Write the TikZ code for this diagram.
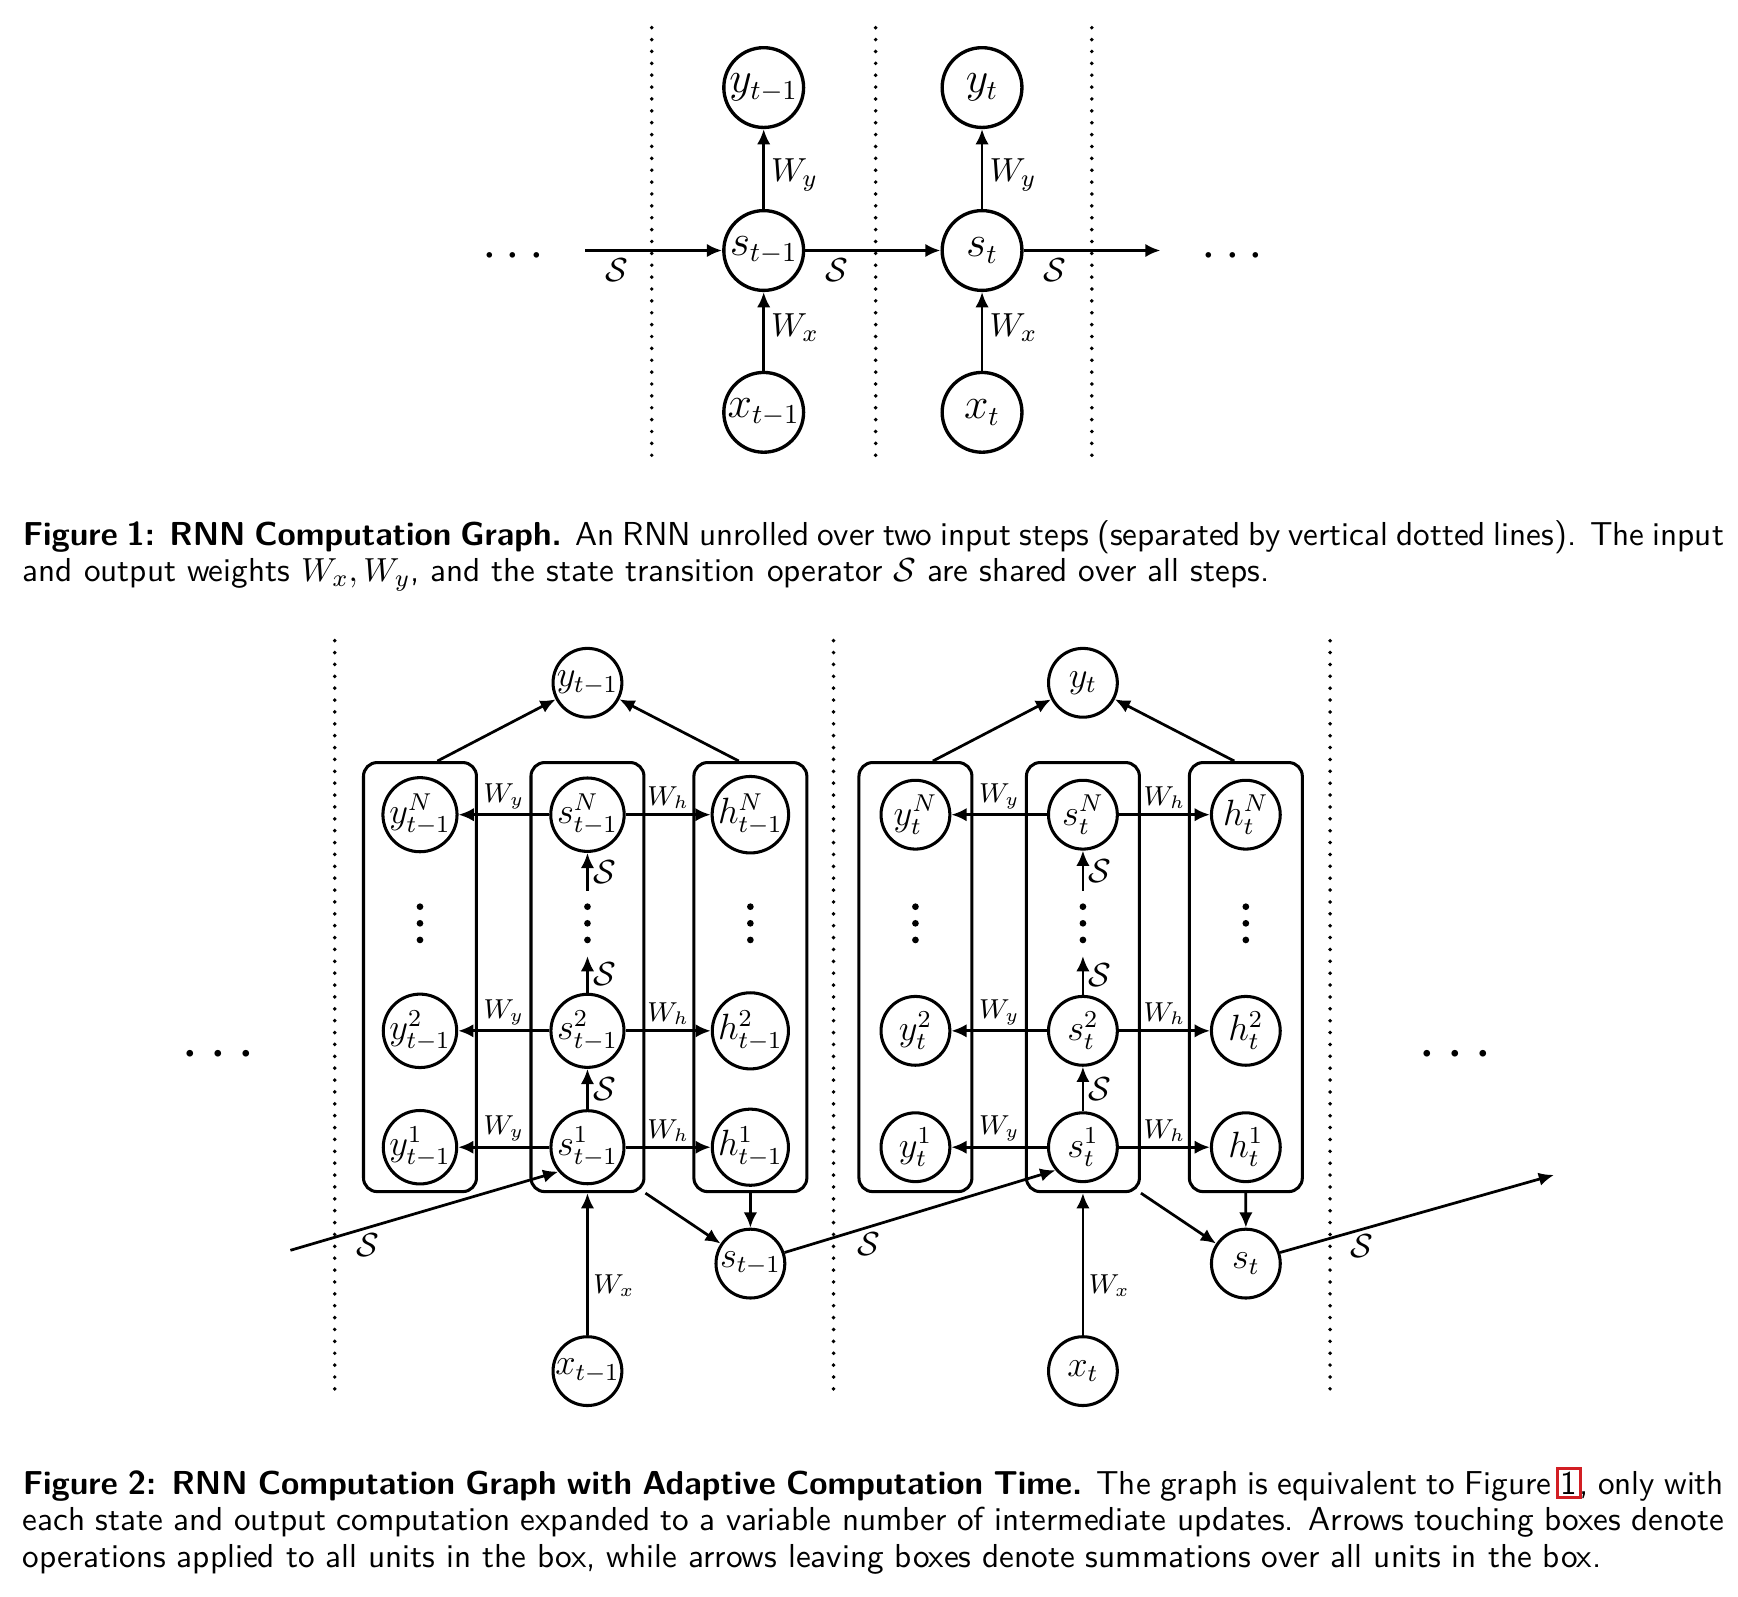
\documentclass[tikz,border=0pt]{standalone}
\usepackage{tikz}
\usetikzlibrary{positioning,calc,arrows.meta}
\definecolor{linkred}{RGB}{210,30,35}
\tikzset{
  actpic/.style={
    x=0.364pt,y=-0.364pt
    ,>={Latex[length=5pt,width=4.4pt]}
  }
  ,bigunit/.style={circle,draw,line width=1.1pt,minimum size=26.2pt,inner sep=0pt
    ,font=\fontsize{13.5}{15}\selectfont}
  ,unit/.style={circle,draw,line width=1pt,minimum size=22.6pt,inner sep=0pt
    ,font=\fontsize{11.5}{13}\selectfont}
  ,colbox/.style={draw,rounded corners=4.5pt,line width=1pt
    ,minimum width=37.1pt,minimum height=140.9pt,inner sep=0pt}
  ,stepline/.style={line width=1.3pt,line cap=round,dash pattern=on 0pt off 3.9pt}
  ,flow/.style={->,line width=0.9pt}
  ,bigflow/.style={->,line width=1.25pt}
  ,wlabel/.style={font=\fontsize{11}{13}\selectfont,inner sep=2pt}
  ,smallw/.style={font=\fontsize{9}{11}\selectfont,inner sep=1.5pt}
  ,smalls/.style={font=\fontsize{10.5}{12}\selectfont,inner sep=1.5pt}
  ,coldots/.style={inner sep=0pt,minimum width=4pt,minimum height=21.1pt}
  ,etc/.style={inner sep=0pt,font=\fontsize{17}{18}\selectfont}
  ,bigetc/.style={inner sep=0pt,font=\fontsize{20}{22}\selectfont}
  ,caption/.style={anchor=north west,inner sep=0pt,text width=558.7pt,align=justify
    ,font=\sffamily\fontsize{10.9}{12}\selectfont}
}
\newcommand\stackdots[1]{
\foreach \d in {-15,0,15} \fill ($(#1)+(0,\d)$) circle (1.1pt);
}
\newcommand\linkbox[1]{{\setlength\fboxsep{0.6pt}\setlength\fboxrule{0.9pt}%
\hspace{-1.5pt}\textcolor{linkred}{\fbox{\textcolor{black}{#1}}}\hspace{-0.9pt}}}

\begin{document}
\begin{tikzpicture}[actpic]
    \useasboundingbox (0,0) rectangle (1568,1440);
    % figure 1
    \foreach \x in {588,790,985}
      \draw[stepline] (\x,25) -- (\x,420);
    \node[bigunit] (sprev) at (689,226) {$s_{t-1}$};
    \node[bigunit] (scur) at (886,226) {$s_t$};
    \node[bigunit] (yprev) at (689,79) {$y_{t-1}$};
    \node[bigunit] (ycur) at (886,79) {$y_t$};
    \node[bigunit] (xprev) at (689,372) {$x_{t-1}$};
    \node[bigunit] (xcur) at (886,372) {$x_t$};
    \coordinate (sin) at (528,226);
    \coordinate (sout) at (1047,226);
    \node[etc] (ldots) at (463,232) {$\cdots$};
    \node[etc] (rdots) at (1112,232) {$\cdots$};
    \draw[bigflow] (sin) -- node[pos=0.23,below,wlabel] {$\mathcal{S}$} (sprev);
    \draw[bigflow] (sprev) -- node[pos=0.23,below,wlabel] {$\mathcal{S}$} (scur);
    \draw[bigflow] (scur) -- node[pos=0.23,below,wlabel] {$\mathcal{S}$} (sout);
    \foreach \c in {prev,cur}{
      \draw[flow] (s\c) -- node[pos=0.43,right,wlabel] {$W_y$} (y\c);
      \draw[flow] (x\c) -- node[pos=0.55,right,wlabel] {$W_x$} (s\c);
    }
    \node[caption] (cap1) at (20,469) {\textbf{Figure 1: RNN Computation Graph.} An RNN
      unrolled over two input steps (separated by vertical dotted lines). The input\linebreak
      and output weights $W_x, W_y$, and the state transition operator $\mathcal{S}$ are
      shared over all steps.};

    % figure 2
    \foreach \x in {302,752,1200}
      \draw[stepline] (\x,578) -- (\x,1262);
    \coordinate (boxmid) at (0,881.5);
    \foreach \blk/\ts/\dx in {a/{t-1}/0,b/t/447}{
      \node[unit] (sN\blk) at (530+\dx,735) {$s^N_{\ts}$};
      \node[unit] (s2\blk) at (530+\dx,930) {$s^2_{\ts}$};
      \node[unit] (s1\blk) at (530+\dx,1035) {$s^1_{\ts}$};
      \foreach \r in {N,2,1}{
        \node[unit,on grid,left=55pt of s\r\blk] (y\r\blk) {$y^\r_{\ts}$};
        \node[unit,on grid,right=53.5pt of s\r\blk] (h\r\blk) {$h^\r_{\ts}$};
        \draw[flow] (s\r\blk) -- node[above,smallw] {$W_y$} (y\r\blk);
        \draw[flow] (s\r\blk) -- node[above,smallw] {$W_h$} (h\r\blk);
      }
      \node[colbox] (ybox\blk) at (y1\blk |- boxmid) {};
      \node[colbox] (sbox\blk) at (s1\blk |- boxmid) {};
      \node[colbox] (hbox\blk) at (h1\blk |- boxmid) {};
      \node[coldots] (sdots\blk) at (530+\dx,833) {};
      \stackdots{sdots\blk}
      \stackdots{y1\blk |- sdots\blk}
      \stackdots{h1\blk |- sdots\blk}
      \draw[flow] (s1\blk) -- node[right,smalls] {$\mathcal{S}$} (s2\blk);
      \draw[flow] (s2\blk) -- node[right,smalls] {$\mathcal{S}$} (sdots\blk);
      \draw[flow] (sdots\blk) -- node[right,smalls] {$\mathcal{S}$} (sN\blk);
      \node[unit] (ytop\blk) at (530+\dx,616) {$y_{\ts}$};
      \node[unit] (ssum\blk) at (677+\dx,1140) {$s_{\ts}$};
      \node[unit] (x\blk) at (530+\dx,1237) {$x_{\ts}$};
      \draw[flow] ($(ybox\blk.north)!0.3!(ybox\blk.north east)$) -- (ytop\blk);
      \draw[flow] ($(hbox\blk.north)!0.2!(hbox\blk.north west)$) -- (ytop\blk);
      \draw[flow] (hbox\blk) -- (ssum\blk);
      \draw[flow] (sbox\blk.south east) -- (ssum\blk);
      \draw[flow] (x\blk) -- node[pos=0.35,right,smallw] {$W_x$} (sbox\blk);
    }
    \coordinate (sstart) at (262,1128);
    \coordinate (send) at (1402,1060);
    \draw[flow] (sstart) -- node[pos=0.29,below,smalls] {$\mathcal{S}$} (s1a.220);
    \draw[flow] (ssuma.18) -- node[pos=0.31,below,smalls] {$\mathcal{S}$} (s1b.220);
    \draw[flow] (ssumb.18) -- node[pos=0.3,below,smalls] {$\mathcal{S}$} (send);
    \node[bigetc] (ldots2) at (197,952) {$\cdots$};
    \node[bigetc] (rdots2) at (1313,952) {$\cdots$};
    \node[caption] (cap2) at (20,1323) {\textbf{Figure 2: RNN Computation Graph with Adaptive
      Computation Time.} The graph is equivalent to Figure \linkbox{1}, only with\linebreak
      each state and output computation expanded to a variable number of intermediate
      updates. Arrows touching boxes denote\linebreak operations applied to all units in
      the box, while arrows leaving boxes denote summations over all units in the box.};
\end{tikzpicture}
\end{document}
